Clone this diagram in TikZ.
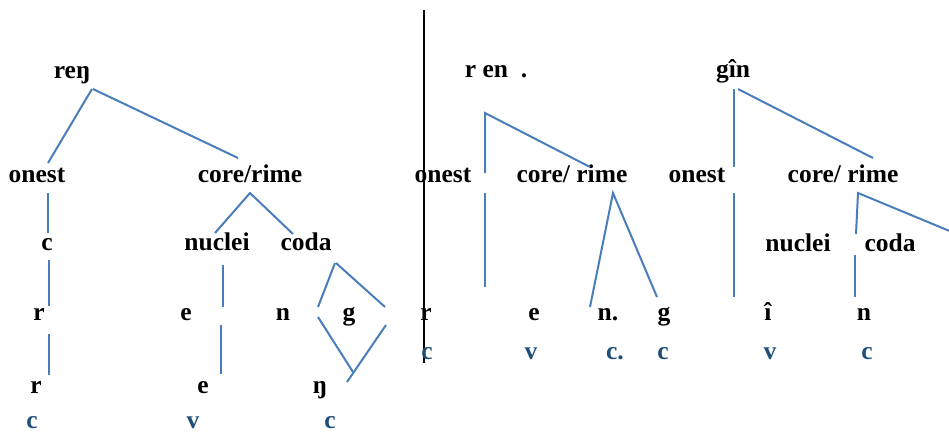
\documentclass[tikz,border=0pt]{standalone}
\usepackage{fontspec}
\setmainfont{Liberation Serif}
\definecolor{lblue}{HTML}{4A7EBB}
\definecolor{dblue}{HTML}{1F4E79}
\begin{document}
\begin{tikzpicture}[x=1pt,y=-1pt,
  lbl/.style={font=\fontsize{25.5}{30}\selectfont\bfseries, inner sep=0pt, anchor=base},
  sub/.style={lbl, text=dblue},
  br/.style={draw=lblue, line width=2pt},
  sep/.style={draw=black, line width=2pt}]
\useasboundingbox (0,0) rectangle (949,432);
% ---------- left tree ----------
\node[lbl] (reng) at (72,78) {reŋ};
\node[lbl] (onL) at (37,182) {onest};
\node[lbl] (crL) at (250,182) {core/rime};
\node[lbl] (cL) at (47,250) {c};
\node[lbl] (nucL) at (217,250) {nuclei};
\node[lbl] (codL) at (306,250) {coda};
\node[lbl] (r1) at (39,320) {r};
\node[lbl] (e1) at (186,320) {e};
\node[lbl] (n1) at (283,320) {n};
\node[lbl] (g1) at (349,320) {g};
\node[lbl] (r2) at (36,393) {r};
\node[lbl] (e2) at (203,393) {e};
\node[lbl] (ng2) at (320,393) {ŋ};
\node[sub] (s1) at (32,428) {c};
\node[sub] (s2) at (193,428) {v};
\node[sub] (s3) at (330,428) {c};
\coordinate (a1) at (92,89);  \coordinate (a2) at (48,163);
\coordinate (a3) at (93,89);  \coordinate (a4) at (238,158);
\coordinate (b1) at (48,193); \coordinate (b2) at (48,233);
\coordinate (b3) at (49,260); \coordinate (b4) at (49,306);
\coordinate (b5) at (49,334); \coordinate (b6) at (49,375);
\coordinate (c0) at (250,193); \coordinate (c1) at (215,233); \coordinate (c2) at (293,234);
\coordinate (d1) at (223,265); \coordinate (d2) at (223,307);
\coordinate (d3) at (221,325); \coordinate (d4) at (221,374);
\coordinate (f1) at (318,307); \coordinate (f2) at (335,263);
\coordinate (f3) at (336,263); \coordinate (f4) at (385,307);
\coordinate (f5) at (318,317); \coordinate (f6) at (353,372);
\coordinate (f7) at (386,325); \coordinate (f8) at (347,382);
\draw[br] (a1) -- (a2);
\draw[br] (a3) -- (a4);
\draw[br] (b1) -- (b2);
\draw[br] (b3) -- (b4);
\draw[br] (b5) -- (b6);
\draw[br] (c1) -- (c0) -- (c2);
\draw[br] (d1) -- (d2);
\draw[br] (d3) -- (d4);
\draw[br] (f1) -- (f2);
\draw[br] (f3) -- (f4);
\draw[br] (f5) -- (f6);
\draw[br] (f7) -- (f8);
% ---------- separator ----------
\coordinate (v1) at (424,10); \coordinate (v2) at (424,363);
\draw[sep] (v1) -- (v2);
% ---------- middle tree ----------
\node[lbl] (ren) at (496,77) {r en~~.};
\node[lbl] (onM) at (443,182) {onest};
\node[lbl] (crM) at (572,182) {core/ rime};
\node[lbl] (rM) at (426,320) {r};
\node[lbl] (eM) at (534,320) {e};
\node[lbl] (nM) at (608,320) {n.};
\node[lbl] (gM) at (664,320) {g};
\node[sub] (m1) at (427,359) {c};
\node[sub] (m2) at (531,359) {v};
\node[sub] (m3) at (615,359) {c.};
\node[sub] (m4) at (663,359) {c};
\coordinate (h0) at (485,113); \coordinate (h1) at (485,173); \coordinate (h2) at (590,167);
\coordinate (h3) at (485,193); \coordinate (h4) at (485,287);
\coordinate (k0) at (613,193); \coordinate (k1) at (590,307); \coordinate (k2) at (657,297);
\draw[br] (h1) -- (h0) -- (h2);
\draw[br] (h3) -- (h4);
\draw[br] (k1) -- (k0) -- (k2);
% ---------- right tree ----------
\node[lbl] (gin) at (733,77) {gîn};
\node[lbl] (onR) at (697,182) {onest};
\node[lbl] (crR) at (843,182) {core/ rime};
\node[lbl] (nucR) at (798,251) {nuclei};
\node[lbl] (codR) at (890,251) {coda};
\node[lbl] (iR) at (768,320) {î};
\node[lbl] (nR) at (864,320) {n};
\node[sub] (q1) at (770,359) {v};
\node[sub] (q2) at (867,359) {c};
\coordinate (p0) at (734,89); \coordinate (p1) at (734,167);
\coordinate (p2) at (738,89); \coordinate (p3) at (873,158);
\coordinate (p4) at (734,193); \coordinate (p5) at (734,297);
\coordinate (t0) at (858,193); \coordinate (t1) at (856,234); \coordinate (t2) at (952,232);
\coordinate (t3) at (855,255); \coordinate (t4) at (855,297);
\draw[br] (p0) -- (p1);
\draw[br] (p2) -- (p3);
\draw[br] (p4) -- (p5);
\draw[br] (t1) -- (t0) -- (t2);
\draw[br] (t3) -- (t4);
\end{tikzpicture}
\end{document}
